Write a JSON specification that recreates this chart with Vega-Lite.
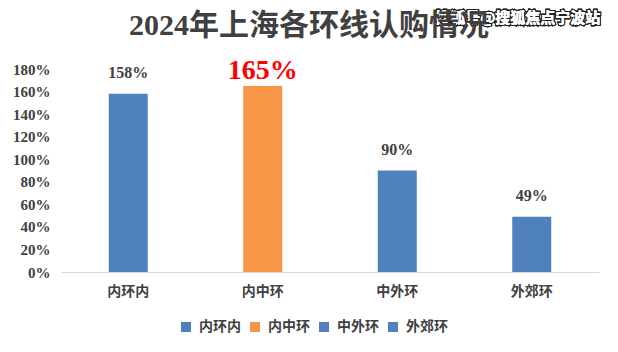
{
  "$schema": "https://vega.github.io/schema/vega-lite/v6.json",
  "autosize": {"type": "none"},
  "padding": {"left": 61, "top": 69, "right": 19, "bottom": 80},
  "width": 538,
  "height": 203,
  "background": "white",
  "title": {
    "text": "2024年上海各环线认购情况",
    "font": "Liberation Serif, Noto Sans CJK SC",
    "fontSize": 30,
    "fontWeight": "bold",
    "color": "#404040",
    "anchor": "middle",
    "frame": "group",
    "dx": -21,
    "dy": 42,
    "offset": 12
  },
  "config": {
    "view": {"stroke": null},
    "axis": {"grid": false, "ticks": false}
  },
  "data": {
    "values": [
      {"ring": "内环内", "rate": 1.58, "label": "158%"},
      {"ring": "内中环", "rate": 1.65, "label": "165%"},
      {"ring": "中外环", "rate": 0.90, "label": "90%"},
      {"ring": "外郊环", "rate": 0.49, "label": "49%"}
    ]
  },
  "encoding": {
    "x": {
      "field": "ring",
      "type": "nominal",
      "sort": null,
      "scale": {"paddingInner": 0.71, "paddingOuter": 0.355},
      "axis": {
        "title": null,
        "labelAngle": 0,
        "domainColor": "#d9d9d9",
        "domainWidth": 1,
        "labelFont": "Noto Sans CJK SC",
        "labelFontWeight": "bold",
        "labelFontSize": 14,
        "labelColor": "#404040",
        "labelPadding": 12
      }
    },
    "y": {
      "field": "rate",
      "type": "quantitative",
      "scale": {"domain": [0, 1.8], "nice": false},
      "axis": {
        "title": null,
        "domain": false,
        "values": [0, 0.2, 0.4, 0.6, 0.8, 1.0, 1.2, 1.4, 1.6, 1.8],
        "format": ".0%",
        "labelFont": "Liberation Serif",
        "labelFontWeight": "bold",
        "labelFontSize": 15,
        "labelColor": "#404040",
        "labelPadding": 11
      }
    }
  },
  "layer": [
    {
      "mark": {"type": "bar"},
      "encoding": {
        "color": {
          "field": "ring",
          "type": "nominal",
          "scale": {
            "domain": ["内环内", "内中环", "中外环", "外郊环"],
            "range": ["#4f81bd", "#f79646", "#4f81bd", "#4f81bd"]
          },
          "legend": {
            "title": null,
            "orient": "none",
            "direction": "horizontal",
            "legendX": 118,
            "legendY": 251,
            "symbolType": "square",
            "symbolSize": 100,
            "symbolStrokeWidth": 0,
            "labelFont": "Noto Sans CJK SC",
            "labelFontWeight": "bold",
            "labelFontSize": 14,
            "labelColor": "#404040",
            "labelOffset": 6,
            "columnPadding": 7,
            "padding": 0
          }
        }
      }
    },
    {
      "transform": [{"filter": "datum.ring !== '内中环'"}],
      "mark": {
        "type": "text",
        "font": "Liberation Serif",
        "fontWeight": "bold",
        "fontSize": 16,
        "color": "#404040",
        "baseline": "middle",
        "dy": -21
      },
      "encoding": {"text": {"field": "label"}}
    },
    {
      "transform": [{"filter": "datum.ring === '内中环'"}],
      "mark": {
        "type": "text",
        "font": "Liberation Serif",
        "fontWeight": "bold",
        "fontSize": 28,
        "color": "#ff0000",
        "baseline": "middle",
        "dy": -15
      },
      "encoding": {"text": {"field": "label"}}
    },
    {
      "mark": {
        "type": "text",
        "text": "搜狐号@搜狐焦点宁波站",
        "font": "Noto Sans CJK SC",
        "fontWeight": "bold",
        "fontSize": 15,
        "fill": "white",
        "stroke": "#222222",
        "strokeWidth": 2.5,
        "baseline": "middle",
        "dx": -14
      },
      "encoding": {
        "x": {"datum": "外郊环"},
        "y": {"datum": 2.25}
      }
    },
    {
      "mark": {
        "type": "text",
        "text": "搜狐号@搜狐焦点宁波站",
        "font": "Noto Sans CJK SC",
        "fontWeight": "bold",
        "fontSize": 15,
        "fill": "white",
        "baseline": "middle",
        "dx": -14
      },
      "encoding": {
        "x": {"datum": "外郊环"},
        "y": {"datum": 2.25}
      }
    }
  ]
}
